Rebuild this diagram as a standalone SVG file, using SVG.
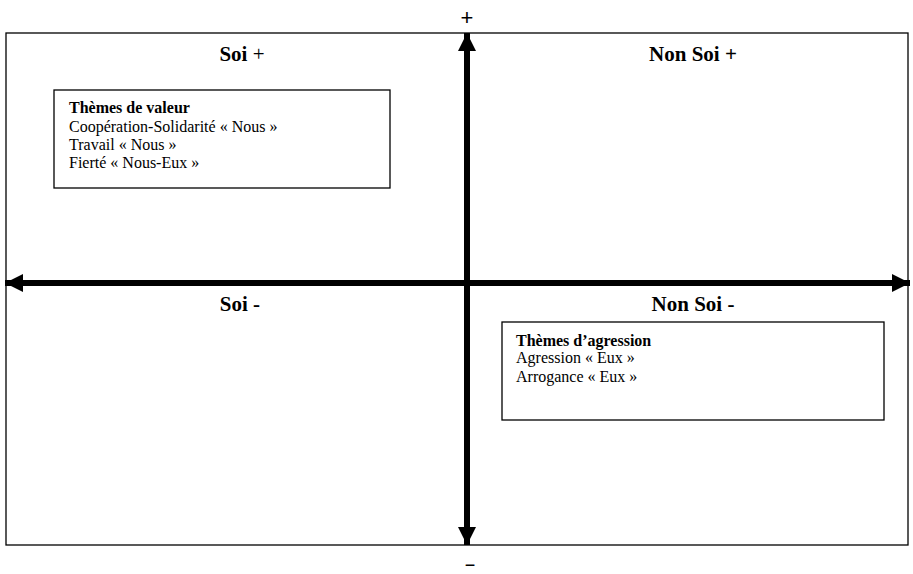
<svg xmlns="http://www.w3.org/2000/svg" width="913" height="574" viewBox="0 0 913 574">
<style>
.t{font-family:"Liberation Serif","Times New Roman",serif;fill:#000}
.h{font-size:21px;font-weight:bold}
.s{font-size:16px}
.b{fill:#fff;stroke:#000;stroke-width:1.3}
.ax{stroke:#000;stroke-width:6;fill:none}
</style>
<defs>
<marker id="ah" viewBox="0 0 10 10" refX="10" refY="5" markerWidth="3.2" markerHeight="3" orient="auto" markerUnits="strokeWidth">
<path d="M0,0 L10,5 L0,10 Z" fill="#000"/>
</marker>
</defs>
<rect id="frame" x="6" y="33" width="902" height="512" fill="#fff" stroke="#000" stroke-width="1.3"/>
<g id="connectors">
<line class="ax" x1="467" y1="283" x2="467" y2="33" marker-end="url(#ah)"/>
<line class="ax" x1="467" y1="283" x2="467" y2="545" marker-end="url(#ah)"/>
<line class="ax" x1="467" y1="283" x2="5" y2="283" marker-end="url(#ah)"/>
<line class="ax" x1="467" y1="283" x2="910" y2="283" marker-end="url(#ah)"/>
</g>
<text x="467" y="25" text-anchor="middle" font-family="Liberation Sans,Arial,sans-serif" font-size="22">+</text>
<text x="470" y="571" text-anchor="middle" font-family="Liberation Sans,Arial,sans-serif" font-size="18">−</text>
<g id="q1"><text class="t h" x="242" y="61" text-anchor="middle">Soi <tspan font-weight="normal">+</tspan></text></g>
<g id="q2"><text class="t h" x="693" y="61" text-anchor="middle">Non Soi +</text></g>
<g id="q3"><text class="t h" x="240" y="311" text-anchor="middle">Soi -</text></g>
<g id="q4"><text class="t h" x="693" y="311" text-anchor="middle">Non Soi -</text></g>
<g id="valeur">
<rect class="b" x="54" y="90" width="336" height="98"/>
<text class="t s" x="69" y="113" font-weight="bold">Thèmes de valeur</text>
<text class="t s" x="69" y="132">Coopération-Solidarité « Nous »</text>
<text class="t s" x="69" y="150">Travail « Nous »</text>
<text class="t s" x="69" y="168">Fierté « Nous-Eux »</text>
</g>
<g id="agression">
<rect class="b" x="502" y="322" width="382" height="98"/>
<text class="t s" x="516" y="346" font-weight="bold">Thèmes d’agression</text>
<text class="t s" x="516" y="363">Agression « Eux »</text>
<text class="t s" x="516" y="382">Arrogance « Eux »</text>
</g>
</svg>
